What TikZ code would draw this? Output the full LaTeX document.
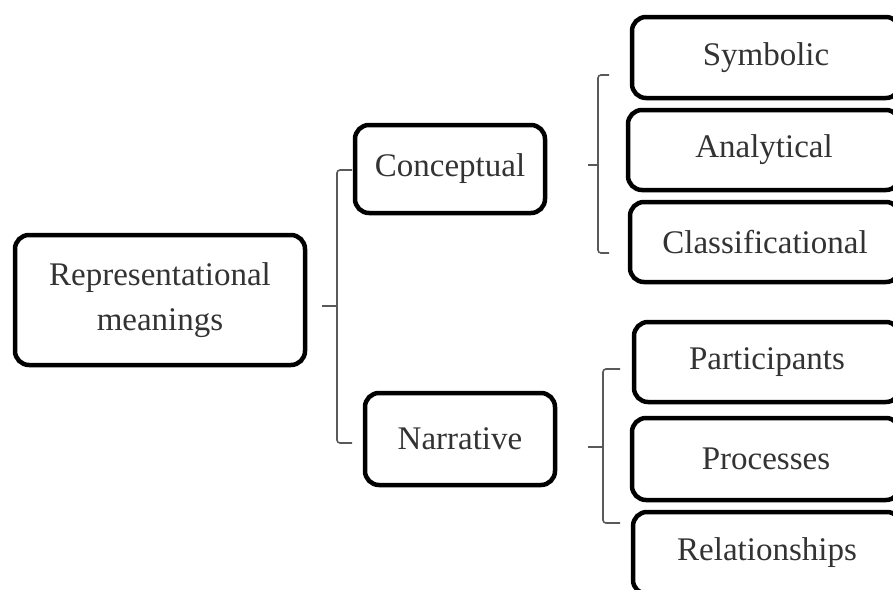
\documentclass[tikz,border=0pt]{standalone}
\usepackage{fontspec}
\setmainfont{Liberation Serif}
\begin{document}
\begin{tikzpicture}[x=1pt,y=-1pt,
  rbox/.style={draw=black, line width=4.5pt, rounded corners=14pt, fill=white,
    align=center, inner sep=0pt, text=black!80,
    font=\fontsize{33}{45}\selectfont},
  brk/.style={draw=black!65, line width=1.6pt, rounded corners=3pt}]
\useasboundingbox (0,0) rectangle (893,589);
\clip (0,0) rectangle (893,589);
% main nodes
\node[rbox, minimum width=290pt, minimum height=130pt] (rep) at (160,300) {Representational\\meanings};
\node[rbox, minimum width=190pt, minimum height=88pt] (con) at (450,169) {\raisebox{4pt}{Conceptual}};
\node[rbox, minimum width=190pt, minimum height=92pt] (nar) at (460,439) {Narrative};
% right nodes (cut off at the right edge)
\node[rbox, minimum width=268pt, minimum height=81pt] (sym) at (766,57.5) {Symbolic};
\node[rbox, minimum width=272pt, minimum height=80pt] (ana) at (764,150) {Analytical};
\node[rbox, minimum width=270pt, minimum height=80pt] (cla) at (765,242) {Classificational};
\node[rbox, minimum width=266pt, minimum height=80pt] (par) at (767,362) {Participants};
\node[rbox, minimum width=268pt, minimum height=82pt] (pro) at (766,459) {Processes};
\node[rbox, minimum width=268pt, minimum height=82pt] (rel) at (767,553) {Relationships};
% bracket coordinates
\coordinate (b1t) at (352,170);
\coordinate (b1b) at (352,443);
\coordinate (b1m) at (322,306);
\coordinate (b2t) at (609,75);
\coordinate (b2b) at (609,253);
\coordinate (b2m) at (588,165);
\coordinate (b3t) at (620,369);
\coordinate (b3b) at (620,523);
\coordinate (b3m) at (588,447);
% brackets
\draw[brk] (b1t) -- (337,170) -- (337,443) -- (b1b);
\draw[brk] (b1m) -- (337,306);
\draw[brk] (b2t) -- (598,75) -- (598,253) -- (b2b);
\draw[brk] (b2m) -- (598,165);
\draw[brk] (b3t) -- (603,369) -- (603,523) -- (b3b);
\draw[brk] (b3m) -- (603,447);
\end{tikzpicture}
\end{document}
